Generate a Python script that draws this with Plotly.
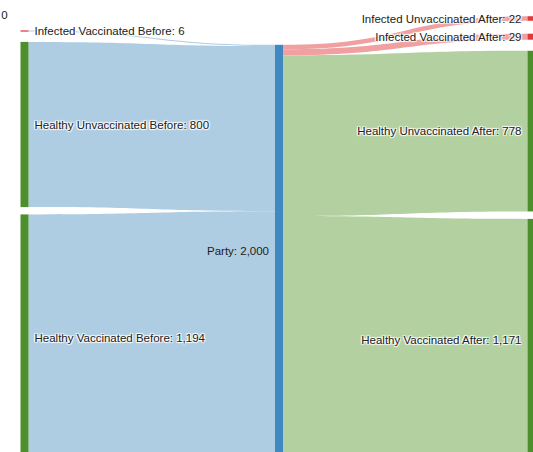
import plotly.graph_objects as go

W, H = 533, 452

node_labels = [
    "Infected Vaccinated Before: 6",
    "Healthy Unvaccinated Before: 800",
    "Healthy Vaccinated Before: 1,194",
    "Party: 2,000",
    "Infected Unvaccinated After: 22",
    "Infected Vaccinated After: 29",
    "Healthy Unvaccinated After: 778",
    "Healthy Vaccinated After: 1,171",
    "Infected Unvaccinated Before: 0",
]
node_colors = ["#e0393b", "#4d8f2c", "#4d8f2c", "#3f88c2",
               "#e0393b", "#e0393b", "#4d8f2c", "#4d8f2c", "#e0393b"]

# node centre positions (screen pixels), converted to fractions below
node_px_x = [24.5, 24.5, 24.5, 279, 531.5, 531.5, 531.5, 531.5, 24.5]
node_px_y = [31, 124.5, 337.7, 251.3, 18.5, 36.7, 131.1, 339.8, 15]

link_source = [8, 0, 1, 2, 3, 3, 3, 3]
link_target = [3, 3, 3, 3, 4, 5, 6, 7]
link_value = [0, 6, 800, 1194, 22, 29, 778, 1171]
link_colors = ["#aecde3", "#aecde3", "#aecde3", "#aecde3",
               "#f0a0a0", "#f0a0a0", "#b3d0a0", "#b3d0a0"]

node_x = [v / W for v in node_px_x]
node_y = [v / H for v in node_px_y]

# labels drawn by the sankey itself; the Party label sits on the left of its
# node, so it is drawn as an annotation instead
PARTY = 3
ZERO = 8
shown_labels = ["" if i == PARTY else lab for i, lab in enumerate(node_labels)]

fig = go.Figure(go.Sankey(
    arrangement="fixed",
    node=dict(label=shown_labels, color=node_colors, pad=13, thickness=8,
              x=node_x, y=node_y,
              line=dict(width=6, color="rgba(0,0,0,0)")),
    link=dict(source=link_source, target=link_target, value=link_value,
              color=link_colors),
))
ann_font = dict(family="Liberation Sans, Arial", size=11.5, color="#222")
# the zero-value node has no flow, so the sankey drops it; show its label
fig.add_annotation(text=node_labels[ZERO], xref="paper", yref="paper",
                   x=10 / W, y=1 - node_y[ZERO], xanchor="right",
                   yanchor="middle", showarrow=False, font=ann_font)
fig.add_annotation(text=node_labels[PARTY], xref="paper", yref="paper",
                   x=(node_px_x[PARTY] - 8) / W, y=1 - node_y[PARTY],
                   xanchor="right", yanchor="middle", showarrow=False,
                   font=ann_font)
fig.update_layout(width=W, height=H,
                  margin=dict(l=0, r=0, t=0, b=0),
                  font=ann_font,
                  paper_bgcolor="white")
fig.write_html("out.html", config={"displayModeBar": False},
               post_script="document.body.style.margin='0px';")
